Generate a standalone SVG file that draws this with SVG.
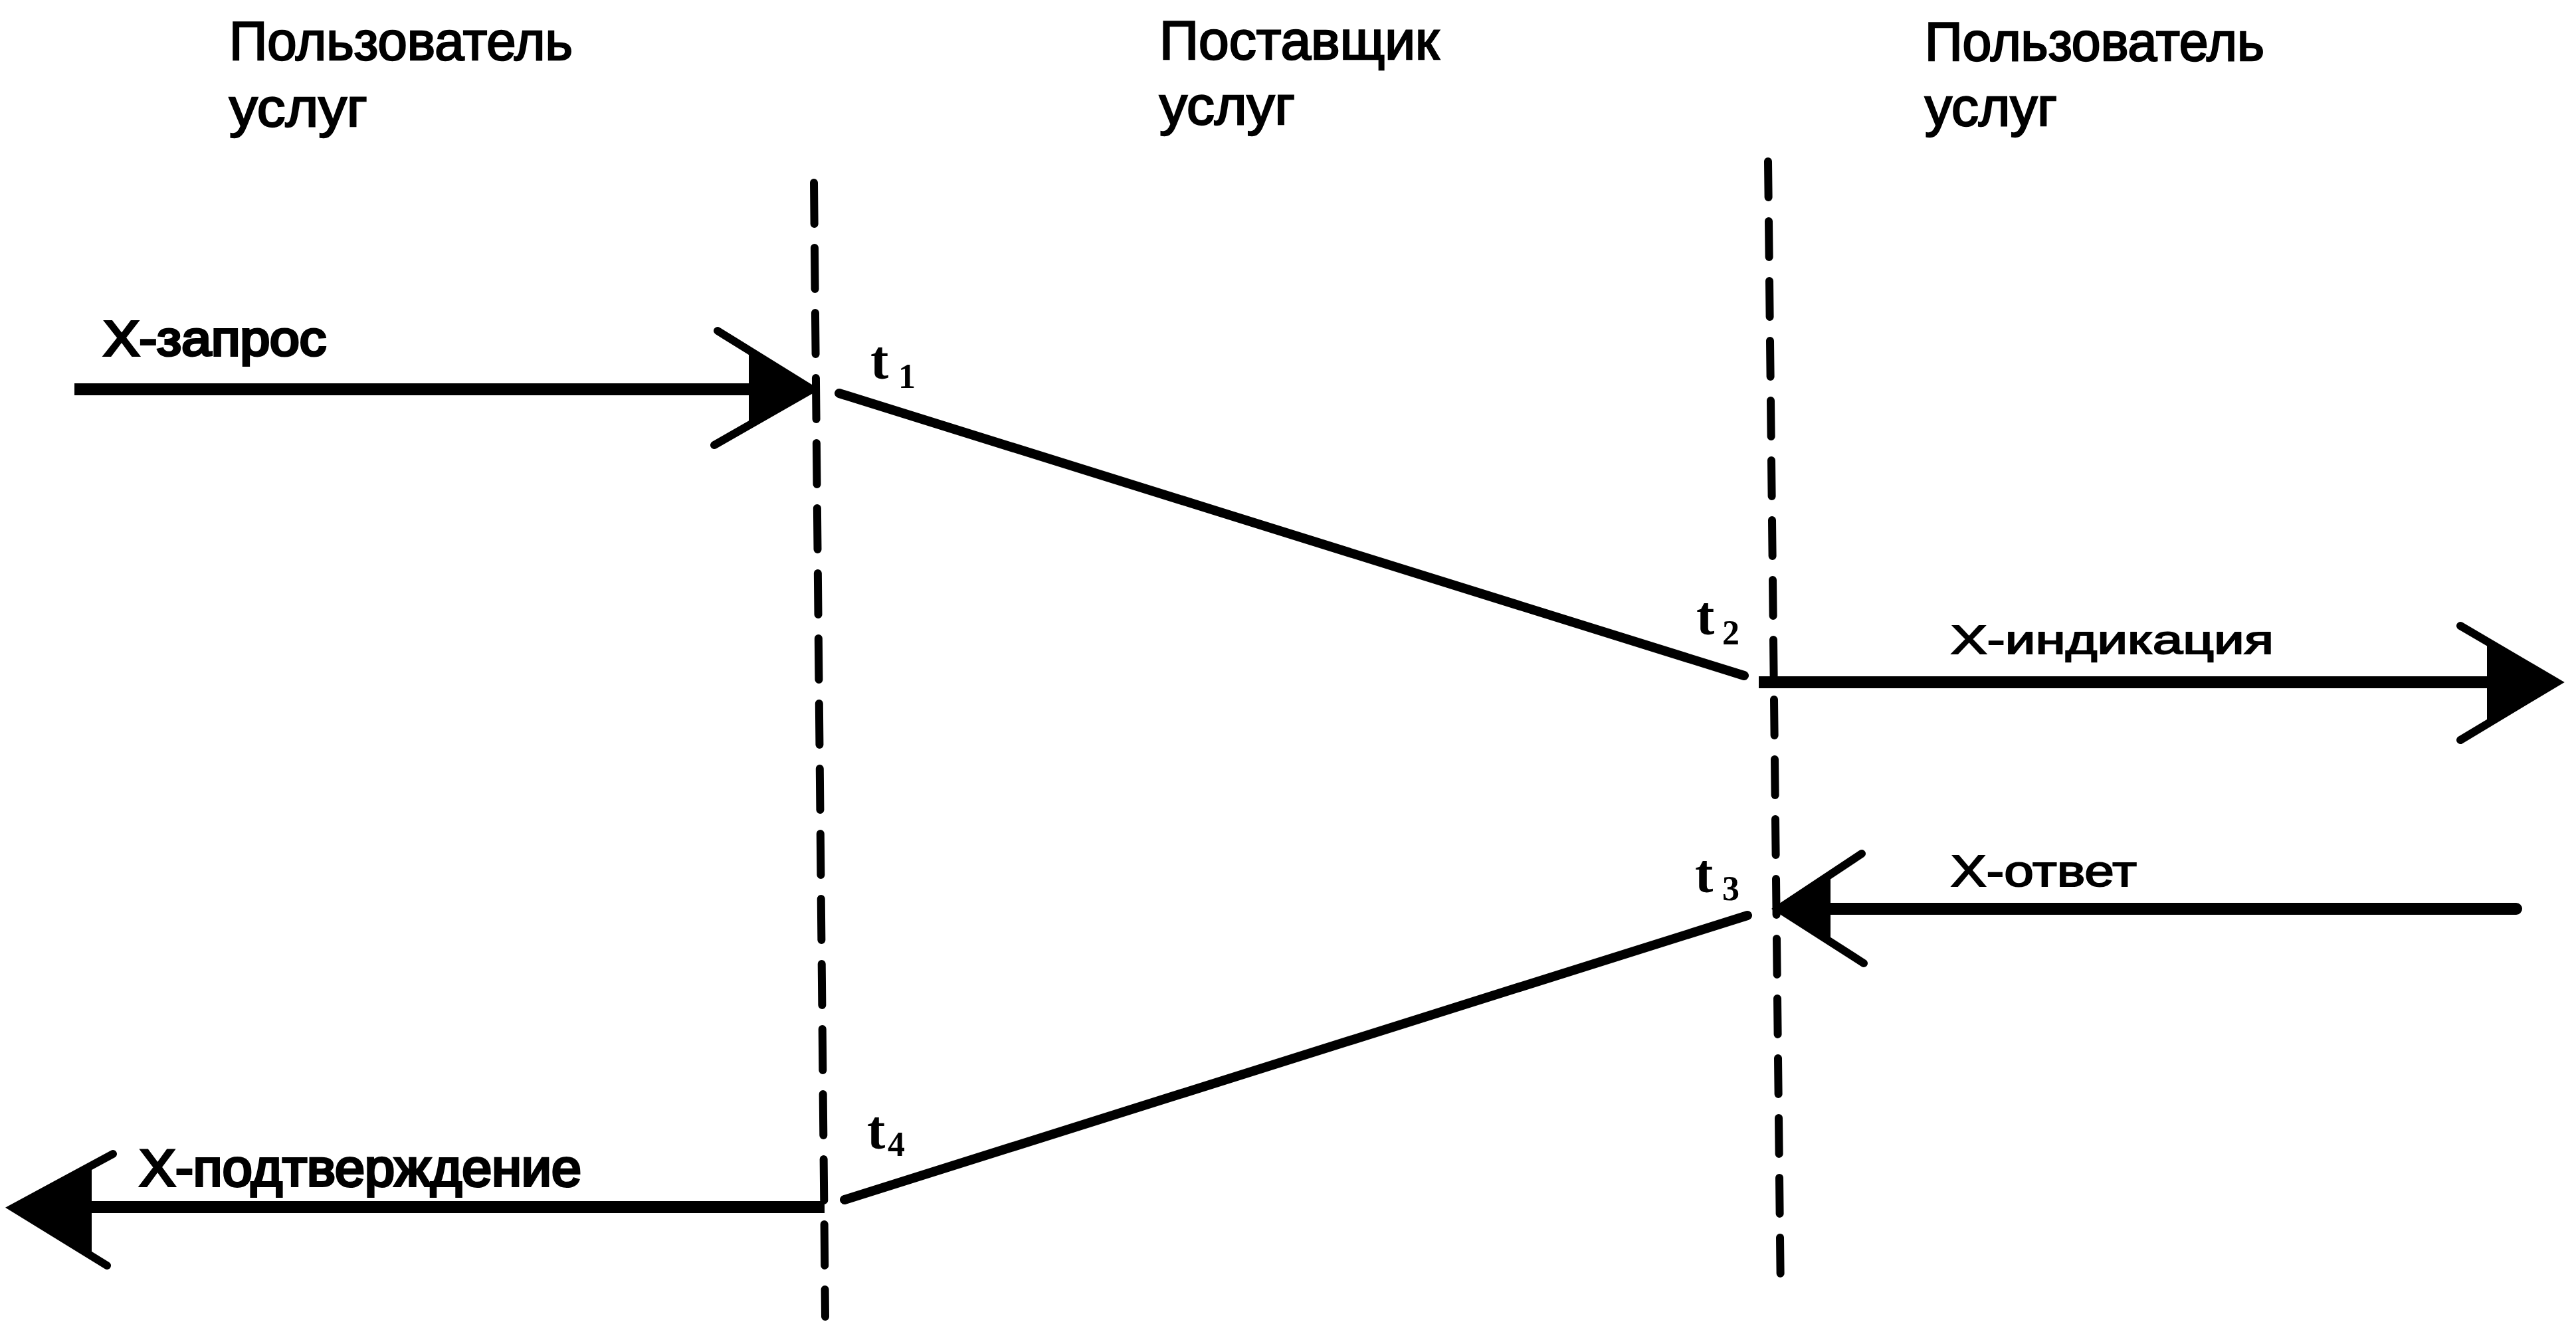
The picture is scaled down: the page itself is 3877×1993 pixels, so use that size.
<svg xmlns="http://www.w3.org/2000/svg" width="3877" height="1993" viewBox="0 0 3877 1993">
  <style>
    .hdr { font-family: "Liberation Sans", Arial, sans-serif; font-size: 82px; fill: #000; stroke: #000; stroke-width: 2.5px; }
    .lbl { font-family: "Liberation Sans", Arial, sans-serif; fill: #000; stroke: #000; stroke-width: 2px; }
    .lbl.heavy { stroke-width: 4px; }
    .tm { font-family: "Liberation Serif", "Times New Roman", serif; font-size: 82px; font-weight: bold; fill: #000; }
    .sub { font-size: 52px; font-weight: bold; }
    .life { stroke: #000; stroke-width: 12; fill: none; stroke-linecap: round; }
    .msg { stroke: #000; stroke-width: 18; fill: none; }
    .diag { stroke: #000; stroke-width: 14; fill: none; stroke-linecap: round; }
    .barb { stroke: #000; stroke-width: 12; fill: none; stroke-linecap: round; stroke-linejoin: miter; }
    .head { fill: #000; stroke: none; }
  </style>
  <rect width="3877" height="1993" fill="#fff"/>

  <g id="header-user-left">
    <text class="hdr" x="345" y="90" textLength="517" lengthAdjust="spacingAndGlyphs">Пользователь</text>
    <text class="hdr" x="345" y="190" textLength="208" lengthAdjust="spacingAndGlyphs">услуг</text>
  </g>
  <g id="header-provider">
    <text class="hdr" x="1745" y="89" textLength="421" lengthAdjust="spacingAndGlyphs">Поставщик</text>
    <text class="hdr" x="1745" y="187" textLength="204" lengthAdjust="spacingAndGlyphs">услуг</text>
  </g>
  <g id="header-user-right">
    <text class="hdr" x="2897" y="91" textLength="511" lengthAdjust="spacingAndGlyphs">Пользователь</text>
    <text class="hdr" x="2897" y="189" textLength="199" lengthAdjust="spacingAndGlyphs">услуг</text>
  </g>

  <g id="lifeline-left">
    <line class="life" x1="1225" y1="275" x2="1242" y2="1982" stroke-dasharray="62 36"/>
  </g>
  <g id="lifeline-right">
    <line class="life" x1="2661" y1="243" x2="2680" y2="1952" stroke-dasharray="54 36"/>
  </g>

  <g id="time-labels">
    <text class="tm" x="1310" y="570">t<tspan class="sub" x="1352" y="584">1</tspan></text>
    <text class="tm" x="2553" y="955">t<tspan class="sub" x="2592" y="970">2</tspan></text>
    <text class="tm" x="2551" y="1343">t<tspan class="sub" x="2592" y="1355">3</tspan></text>
    <text class="tm" x="1305" y="1729">t<tspan class="sub" x="1336" y="1740">4</tspan></text>
  </g>

  <g id="connectors">
    <g id="msg-request">
      <line class="msg" x1="112" y1="586" x2="1135" y2="586"/>
      <polyline class="barb" points="1080,498 1222,586 1075,670"/>
      <polygon class="head" points="1127,527 1222,586 1127,640"/>
      <text class="lbl heavy" x="156" y="535" font-size="74" textLength="335" lengthAdjust="spacingAndGlyphs">X-запрос</text>
    </g>
    <line class="diag" x1="1263" y1="592" x2="2625" y2="1017"/>
    <g id="msg-indication">
      <line class="msg" x1="2647" y1="1027" x2="3750" y2="1027" stroke-width="17"/>
      <polyline class="barb" points="3703,942 3848,1027 3703,1114"/>
      <polygon class="head" points="3743,966 3848,1027 3743,1088"/>
      <text class="lbl" x="2936" y="984" font-size="62" textLength="486" lengthAdjust="spacingAndGlyphs">X-индикация</text>
    </g>
    <g id="msg-response">
      <line class="msg" x1="2750" y1="1368" x2="3787" y2="1368" stroke-width="17" stroke-linecap="round"/>
      <polyline class="barb" points="2802,1285 2677,1368 2805,1450"/>
      <polygon class="head" points="2755,1316 2677,1368 2755,1418"/>
      <text class="lbl" x="2936" y="1334" font-size="66" textLength="280" lengthAdjust="spacingAndGlyphs">X-ответ</text>
    </g>
    <line class="diag" x1="2630" y1="1378" x2="1271" y2="1806" stroke-width="16"/>
    <g id="msg-confirm">
      <line class="msg" x1="130" y1="1817" x2="1241" y2="1817"/>
      <polyline class="barb" points="170,1737 20,1818 161,1905"/>
      <polygon class="head" points="138,1756 20,1818 138,1888"/>
      <text class="lbl heavy" x="210" y="1785" font-size="78" textLength="665" lengthAdjust="spacingAndGlyphs">X-подтверждение</text>
    </g>
  </g>
</svg>
